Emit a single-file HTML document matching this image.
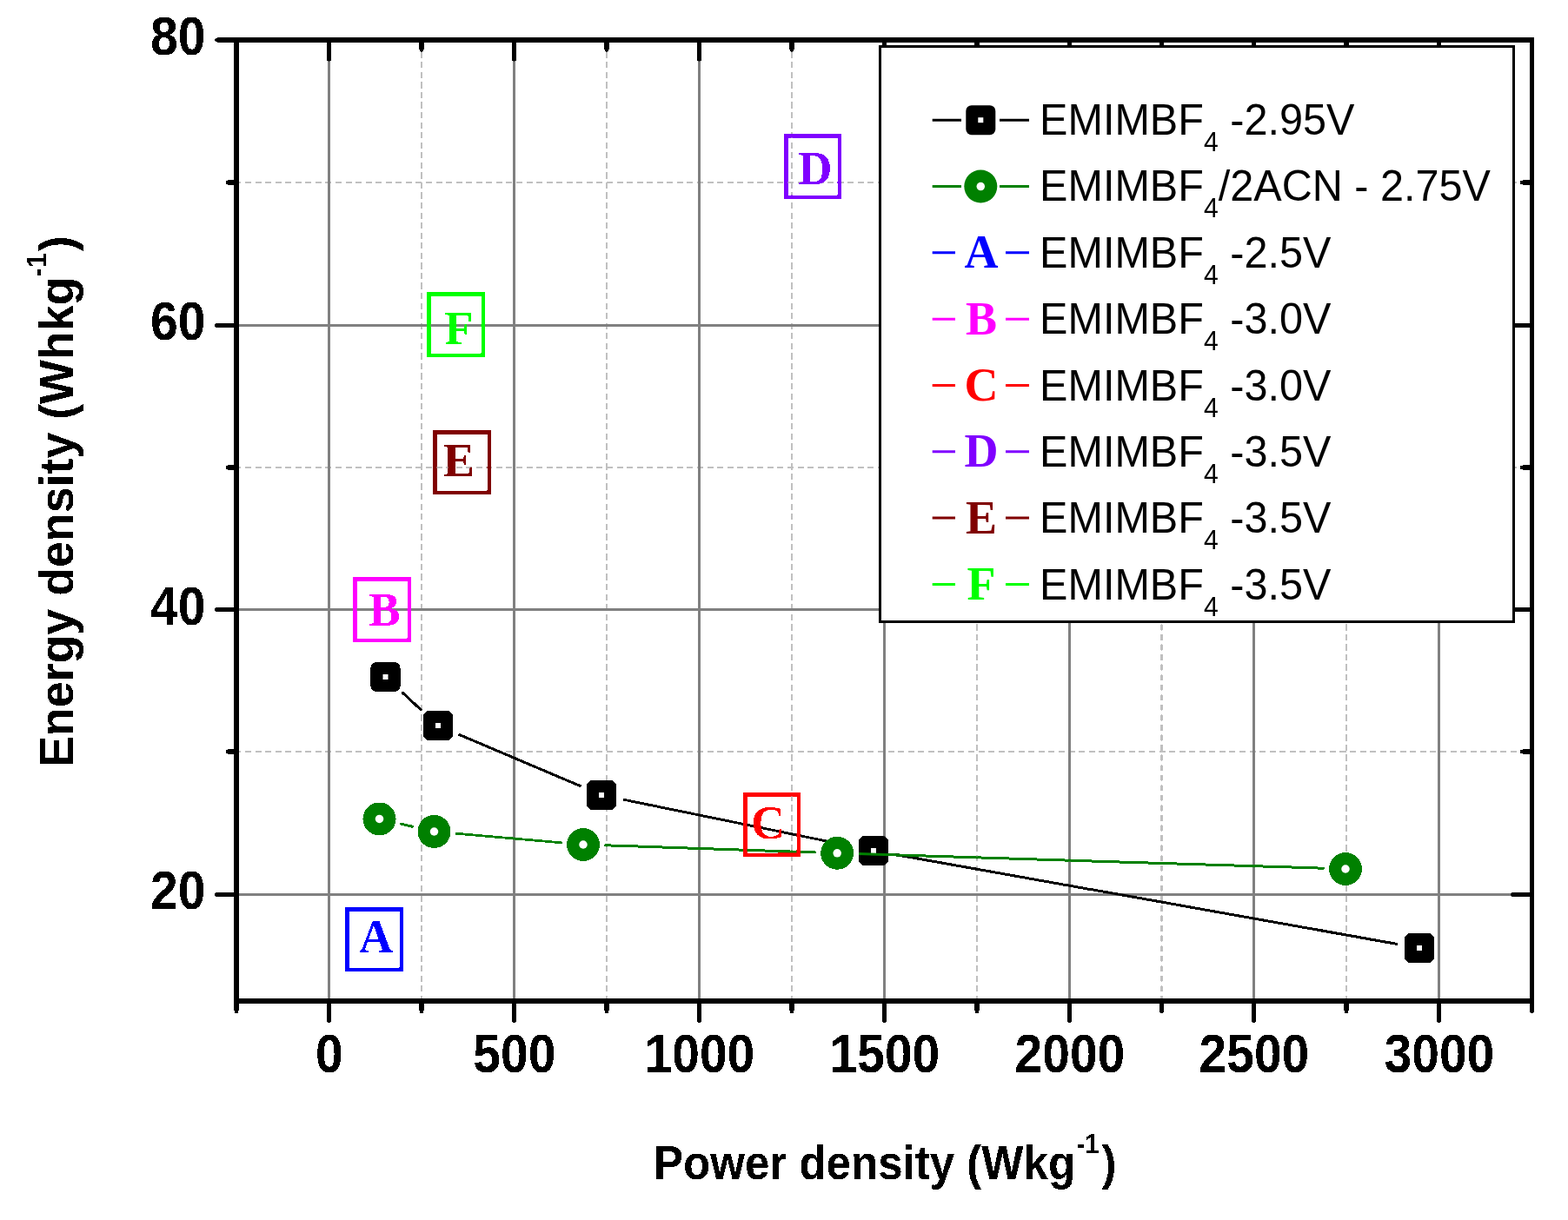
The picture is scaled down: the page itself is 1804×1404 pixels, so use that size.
<!DOCTYPE html><html><head><meta charset="utf-8"><title>Energy density vs Power density</title><style>html,body{margin:0;padding:0;background:#fff;width:1804px;height:1404px;overflow:hidden;}svg{display:block;}.sb{font-family:"Liberation Sans",Arial,sans-serif;font-weight:bold;}.sr{font-family:"Liberation Sans",Arial,sans-serif;font-weight:normal;}.ser{font-family:"Liberation Serif","Times New Roman",serif;font-weight:bold;}</style></head><body><svg width="1804" height="1404" viewBox="0 0 1804 1404"><rect x="0" y="0" width="1804" height="1404" fill="#fff"/><defs><filter id="k"><feComponentTransfer><feFuncA type="discrete" tableValues="0 1"/></feComponentTransfer></filter></defs><g filter="url(#k)"><g stroke="#c0c0c0" stroke-width="2.0" stroke-dasharray="7 4.555"><line x1="485.0" y1="48.2" x2="485.0" y2="1152.0"/><line x1="698.0" y1="48.2" x2="698.0" y2="1152.0"/><line x1="911.0" y1="48.2" x2="911.0" y2="1152.0"/><line x1="1124.0" y1="48.2" x2="1124.0" y2="1152.0"/><line x1="1336.5" y1="48.2" x2="1336.5" y2="1152.0"/><line x1="1549.0" y1="48.2" x2="1549.0" y2="1152.0"/><line x1="270.45" y1="865.0" x2="1762.5" y2="865.0"/><line x1="270.45" y1="538.0" x2="1762.5" y2="538.0"/><line x1="270.45" y1="210.0" x2="1762.5" y2="210.0"/></g><g stroke="#808080" stroke-width="3"><line x1="378.5" y1="46.0" x2="378.5" y2="1152.0"/><line x1="591.5" y1="46.0" x2="591.5" y2="1152.0"/><line x1="804.5" y1="46.0" x2="804.5" y2="1152.0"/><line x1="1017.5" y1="46.0" x2="1017.5" y2="1152.0"/><line x1="1230.5" y1="46.0" x2="1230.5" y2="1152.0"/><line x1="1442.5" y1="46.0" x2="1442.5" y2="1152.0"/><line x1="1655.5" y1="46.0" x2="1655.5" y2="1152.0"/><line x1="272.0" y1="1029.5" x2="1762.5" y2="1029.5"/><line x1="272.0" y1="701.5" x2="1762.5" y2="701.5"/><line x1="272.0" y1="374.5" x2="1762.5" y2="374.5"/></g><path d="M378.5 1152.0V1174.8M378.5 46.0V68.1M591.5 1152.0V1174.8M591.5 46.0V68.1M804.5 1152.0V1174.8M804.5 46.0V68.1M1017.5 1152.0V1174.8M1017.5 46.0V68.1M1230.5 1152.0V1174.8M1230.5 46.0V68.1M1442.5 1152.0V1174.8M1442.5 46.0V68.1M1655.5 1152.0V1174.8M1655.5 46.0V68.1M272.0 1152.0V1163.8M485.0 1152.0V1163.8M485.0 46.0V57.1M698.0 1152.0V1163.8M698.0 46.0V57.1M911.0 1152.0V1163.8M911.0 46.0V57.1M1124.0 1152.0V1163.8M1124.0 46.0V57.1M1336.5 1152.0V1163.8M1336.5 46.0V57.1M1549.0 1152.0V1163.8M1549.0 46.0V57.1M1762.5 1152.0V1163.8M272.0 1029.5H249.7M1762.5 1029.5H1740.6M272.0 701.5H249.7M1762.5 701.5H1740.6M272.0 374.5H249.7M1762.5 374.5H1740.6M272.0 46.0H249.7M272.0 865.0H262.2M1762.5 865.0H1751.5M272.0 538.0H262.2M1762.5 538.0H1751.5M272.0 210.0H262.2M1762.5 210.0H1751.5" stroke="#000" stroke-width="5" stroke-linecap="round" fill="none"/><path d="M269 46.0H1765M269 1152.0H1765" stroke="#000" stroke-width="6" fill="none"/><path d="M272.0 43V1155" stroke="#000" stroke-width="6" fill="none"/><path d="M1762.5 43V1155" stroke="#000" stroke-width="5" fill="none"/><text class="sb" font-size="63" text-anchor="end" transform="translate(236.5 1046.42) scale(0.905 1)">20</text><text class="sb" font-size="63" text-anchor="end" transform="translate(236.5 718.58) scale(0.905 1)">40</text><text class="sb" font-size="63" text-anchor="end" transform="translate(236.5 390.74) scale(0.905 1)">60</text><text class="sb" font-size="63" text-anchor="end" transform="translate(236.5 62.90) scale(0.905 1)">80</text><text class="sb" font-size="63" text-anchor="middle" transform="translate(378.90 1234) scale(0.905 1)">0</text><text class="sb" font-size="63" text-anchor="middle" transform="translate(591.90 1234) scale(0.905 1)">500</text><text class="sb" font-size="63" text-anchor="middle" transform="translate(804.90 1234) scale(0.905 1)">1000</text><text class="sb" font-size="63" text-anchor="middle" transform="translate(1017.90 1234) scale(0.905 1)">1500</text><text class="sb" font-size="63" text-anchor="middle" transform="translate(1230.90 1234) scale(0.905 1)">2000</text><text class="sb" font-size="63" text-anchor="middle" transform="translate(1442.90 1234) scale(0.905 1)">2500</text><text class="sb" font-size="63" text-anchor="middle" transform="translate(1655.90 1234) scale(0.905 1)">3000</text><text class="sb" font-size="56" transform="translate(752 1357) scale(0.912 1)">Power density (Wkg<tspan font-size="32" dx="1.64" dy="-30">-1</tspan><tspan dx="3.29" dy="30">)</tspan></text><text class="sb" font-size="56" transform="translate(84 883) rotate(-90) scale(0.96 1)">Energy density (Whkg<tspan font-size="32" dy="-31">-1</tspan><tspan dx="2" dy="31">)</tspan></text><path d="M462.36 796.46L485.14 817.54M527.65 845.06L668.35 904.94M717.18 920.15L979.82 973.85M1030.30 983.51L1607.70 1086.49" stroke="#000" stroke-width="3" fill="none"/><rect x="426.50" y="762.00" width="34" height="34" rx="6.5" fill="#000"/><rect x="440.50" y="776.00" width="6" height="6" fill="#fff"/><rect x="487.00" y="818.00" width="34" height="34" rx="6.5" fill="#000"/><rect x="501.00" y="832.00" width="6" height="6" fill="#fff"/><rect x="675.00" y="898.00" width="34" height="34" rx="6.5" fill="#000"/><rect x="689.00" y="912.00" width="6" height="6" fill="#fff"/><rect x="988.00" y="962.00" width="34" height="34" rx="6.5" fill="#000"/><rect x="1002.00" y="976.00" width="6" height="6" fill="#fff"/><rect x="1616.00" y="1074.00" width="34" height="34" rx="6.5" fill="#000"/><rect x="1630.00" y="1088.00" width="6" height="6" fill="#fff"/><path d="M460.27 947.91L475.73 951.49M523.81 959.13L646.69 969.87M695.39 972.82L938.81 980.98M987.59 982.56L1523.61 999.24" stroke="#008000" stroke-width="3" fill="none"/><circle cx="436.50" cy="942.40" r="19.0" fill="#008000"/><circle cx="436.50" cy="942.40" r="4.75" fill="#fff"/><circle cx="499.50" cy="957.00" r="19.0" fill="#008000"/><circle cx="499.50" cy="957.00" r="4.75" fill="#fff"/><circle cx="671.00" cy="972.00" r="19.0" fill="#008000"/><circle cx="671.00" cy="972.00" r="4.75" fill="#fff"/><circle cx="963.20" cy="981.80" r="19.0" fill="#008000"/><circle cx="963.20" cy="981.80" r="4.75" fill="#fff"/><circle cx="1548.00" cy="1000.00" r="19.0" fill="#008000"/><circle cx="1548.00" cy="1000.00" r="4.75" fill="#fff"/><rect x="399.25" y="1046.25" width="62.5" height="69.5" fill="none" stroke="#0000ff" stroke-width="4.5"/><text class="ser" font-size="54" fill="#0000ff" text-anchor="middle" x="432.5" y="1096">A</text><rect x="408.25" y="666.25" width="62.5" height="70.5" fill="none" stroke="#ff00ff" stroke-width="4.5"/><text class="ser" font-size="54" fill="#ff00ff" text-anchor="middle" x="442.5" y="720">B</text><rect x="857.25" y="914.25" width="61.5" height="69.5" fill="none" stroke="#ff0000" stroke-width="4.5"/><text class="ser" font-size="54" fill="#ff0000" text-anchor="middle" x="883.5" y="965">C</text><rect x="904.25" y="156.25" width="61.5" height="70.5" fill="none" stroke="#8000ff" stroke-width="4.5"/><text class="ser" font-size="54" fill="#8000ff" text-anchor="middle" x="938" y="212">D</text><rect x="500.25" y="497.25" width="62.5" height="69.5" fill="none" stroke="#800000" stroke-width="4.5"/><text class="ser" font-size="54" fill="#800000" text-anchor="middle" x="528" y="548">E</text><rect x="493.25" y="338.25" width="62.5" height="70.5" fill="none" stroke="#00ff00" stroke-width="4.5"/><text class="ser" font-size="54" fill="#00ff00" text-anchor="middle" x="528" y="396">F</text><rect x="1012.5" y="53.5" width="729" height="662" fill="#fff" stroke="#000" stroke-width="3"/><path d="M1072.7 138.20H1106M1150 138.20H1184" stroke="#000" stroke-width="3" fill="none"/><rect x="1111.30" y="121.20" width="34" height="34" rx="6.5" fill="#000"/><rect x="1125.30" y="135.20" width="6" height="6" fill="#fff"/><text class="sr" font-size="50" transform="translate(1196 154.90) scale(0.972 1)">EMIMBF<tspan font-size="31" dy="19">4</tspan><tspan dy="-19">&#160;-2.95V</tspan></text><path d="M1072.7 214.52H1106M1150 214.52H1184" stroke="#008000" stroke-width="3" fill="none"/><circle cx="1128.30" cy="214.52" r="19.0" fill="#008000"/><circle cx="1128.30" cy="214.52" r="4.75" fill="#fff"/><text class="sr" font-size="50" transform="translate(1196 231.30) scale(0.972 1)">EMIMBF<tspan font-size="31" dy="19">4</tspan><tspan dy="-19">/2ACN&#160;-&#160;2.75V</tspan></text><path d="M1072.7 290.84H1099M1157 290.84H1184" stroke="#0000ff" stroke-width="3" fill="none"/><text class="ser" font-size="54" fill="#0000ff" text-anchor="middle" x="1129" y="308.20">A</text><text class="sr" font-size="50" transform="translate(1196 307.70) scale(0.972 1)">EMIMBF<tspan font-size="31" dy="19">4</tspan><tspan dy="-19">&#160;-2.5V</tspan></text><path d="M1072.7 367.16H1099M1157 367.16H1184" stroke="#ff00ff" stroke-width="3" fill="none"/><text class="ser" font-size="54" fill="#ff00ff" text-anchor="middle" x="1129" y="384.60">B</text><text class="sr" font-size="50" transform="translate(1196 384.10) scale(0.972 1)">EMIMBF<tspan font-size="31" dy="19">4</tspan><tspan dy="-19">&#160;-3.0V</tspan></text><path d="M1072.7 443.48H1099M1157 443.48H1184" stroke="#ff0000" stroke-width="3" fill="none"/><text class="ser" font-size="54" fill="#ff0000" text-anchor="middle" x="1129" y="461.00">C</text><text class="sr" font-size="50" transform="translate(1196 460.50) scale(0.972 1)">EMIMBF<tspan font-size="31" dy="19">4</tspan><tspan dy="-19">&#160;-3.0V</tspan></text><path d="M1072.7 519.80H1099M1157 519.80H1184" stroke="#8000ff" stroke-width="3" fill="none"/><text class="ser" font-size="54" fill="#8000ff" text-anchor="middle" x="1129" y="537.40">D</text><text class="sr" font-size="50" transform="translate(1196 536.90) scale(0.972 1)">EMIMBF<tspan font-size="31" dy="19">4</tspan><tspan dy="-19">&#160;-3.5V</tspan></text><path d="M1072.7 596.12H1099M1157 596.12H1184" stroke="#800000" stroke-width="3" fill="none"/><text class="ser" font-size="54" fill="#800000" text-anchor="middle" x="1129" y="613.80">E</text><text class="sr" font-size="50" transform="translate(1196 613.30) scale(0.972 1)">EMIMBF<tspan font-size="31" dy="19">4</tspan><tspan dy="-19">&#160;-3.5V</tspan></text><path d="M1072.7 672.44H1099M1157 672.44H1184" stroke="#00ff00" stroke-width="3" fill="none"/><text class="ser" font-size="54" fill="#00ff00" text-anchor="middle" x="1129" y="690.20">F</text><text class="sr" font-size="50" transform="translate(1196 689.70) scale(0.972 1)">EMIMBF<tspan font-size="31" dy="19">4</tspan><tspan dy="-19">&#160;-3.5V</tspan></text></g></svg></body></html>
